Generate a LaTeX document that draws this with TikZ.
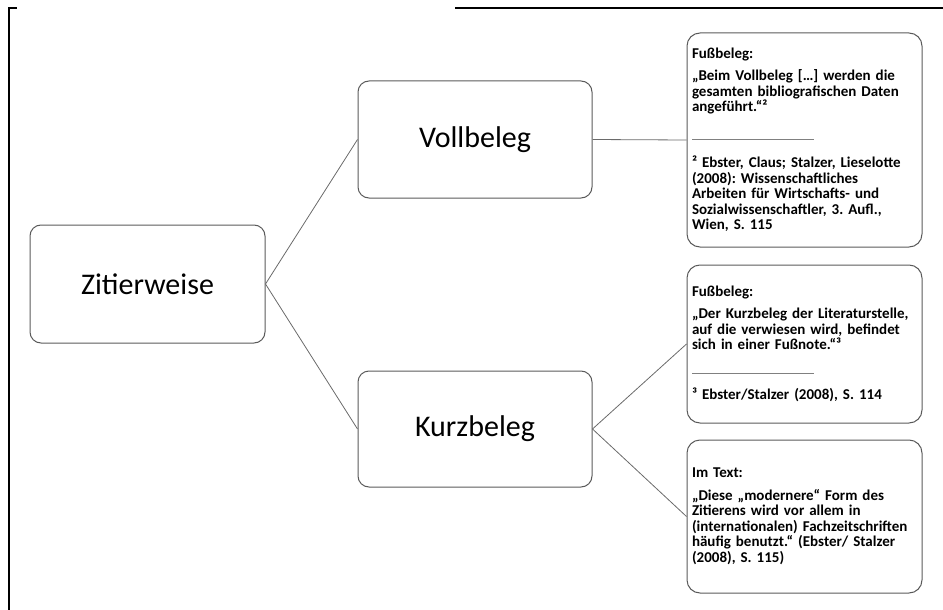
\documentclass[tikz,border=0pt]{standalone}
\usepackage{fontspec}
\setmainfont{Carlito}
\frenchspacing
\definecolor{boxgray}{HTML}{5A5A5A}
\definecolor{linkgray}{HTML}{6A6A6A}
\definecolor{rulegray}{HTML}{808080}
\begin{document}
\begin{tikzpicture}[x=1pt,y=-1pt,
  bigbox/.style={draw=boxgray, line width=1pt, rounded corners=11pt,
    minimum width=234pt, minimum height=117pt, inner sep=0pt,
    font=\fontsize{30}{34}\selectfont},
  notebox/.style={draw=boxgray, line width=1pt, rounded corners=13pt,
    minimum width=235pt, text width=225pt, align=left, inner sep=0pt,
    font=\bfseries\fontsize{15}{15.5}\selectfont},
  link/.style={draw=linkgray, line width=0.8pt},
  frameline/.style={draw=black, line width=2pt}]
\useasboundingbox (0,0) rectangle (943,610);

% page frame
\draw[frameline] (9,610) -- (9,8) -- (17,8);
\draw[frameline] (455,8) -- (943,8);

% main boxes
\node[bigbox, minimum width=235pt, minimum height=118pt] (zit) at (147.5,284) {Zitierweise};
\node[bigbox] (voll) at (475,139.5) {Vollbeleg};
\node[bigbox, minimum height=116pt] (kurz) at (475,429) {Kurzbeleg};

% note boxes
\node[notebox, minimum height=214pt] (n1) at (804.5,140) {%
Fußbeleg:\\[7pt]
„Beim Vollbeleg […] werden die\\
gesamten bibliografischen Daten\\
angeführt.“²\\[12pt]
\textcolor{rulegray}{\rule{122pt}{0.8pt}}\\[13pt]
² Ebster, Claus; Stalzer, Lieselotte\\
(2008): Wissenschaftliches\\
Arbeiten für Wirtschafts- und\\
Sozialwissenschaftler, 3. Aufl.,\\
Wien, S. 115};

\node[notebox, minimum height=158pt] (n2) at (804.5,344) {%
Fußbeleg:\\[7pt]
„Der Kurzbeleg der Literaturstelle,\\
auf die verwiesen wird, befindet\\
sich in einer Fußnote.“³\\[8pt]
\textcolor{rulegray}{\rule{122pt}{0.8pt}}\\[11pt]
³ Ebster/Stalzer (2008), S. 114};

\node[notebox, minimum height=153pt] (n3) at (804.5,516.5) {%
Im Text:\\[7pt]
„Diese „modernere“ Form des\\
Zitierens wird vor allem in\\
(internationalen) Fachzeitschriften\\
häufig benutzt.“ (Ebster/ Stalzer\\
(2008), S. 115)};

% connectors
\draw[link] (zit.east) -- (voll.west);
\draw[link] (zit.east) -- (kurz.west);
\draw[link] (voll.east) -- (n1.west);
\draw[link] (kurz.east) -- (n2.west);
\draw[link] (kurz.east) -- (n3.west);
\end{tikzpicture}
\end{document}
